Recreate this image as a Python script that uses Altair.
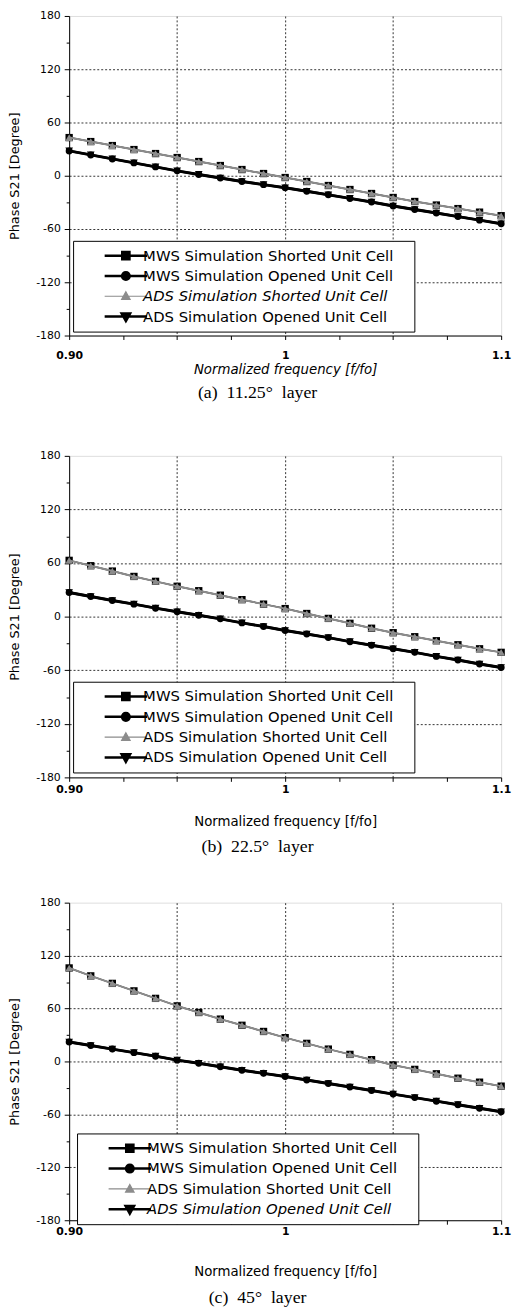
import altair as alt
import pandas as pd

# ---------------- data ----------------
freq = [0.90, 0.91, 0.92, 0.93, 0.94, 0.95, 0.96, 0.97, 0.98, 0.99, 1.00,
        1.01, 1.02, 1.03, 1.04, 1.05, 1.06, 1.07, 1.08, 1.09, 1.10]

series_names = [
    "MWS Simulation Shorted Unit Cell",
    "MWS Simulation Opened Unit Cell",
    "ADS Simulation Shorted Unit Cell",
    "ADS Simulation Opened Unit Cell",
]

# (a) 11.25 deg layer
a_mws_shorted = [43, 38.5, 34, 29.5, 25, 20.5, 16, 11.5, 7, 2.5, -2, -6.5, -11, -15.5, -20, -24.5, -29, -33, -37, -41, -45]
a_ads_shorted = [43, 38.5, 34, 29.5, 25, 20.5, 16, 11.5, 7, 2.5, -2, -6.5, -11, -15.5, -20, -24.5, -29, -33, -37, -41, -45]
a_mws_opened = [28, 23.5, 19, 14.5, 10, 5.5, 1.5, -2.5, -6.5, -10, -13.5, -17.5, -21.5, -25.5, -29.5, -34, -38, -42, -46, -50, -54]
a_ads_opened = [28, 23.5, 19, 14.5, 10, 5.5, 1.5, -2.5, -6.5, -10, -13.5, -17.5, -21.5, -25.5, -29.5, -34, -38, -42, -46, -50, -54]

# (b) 22.5 deg layer
b_mws_shorted = [63, 57, 51, 45, 39.5, 34, 29, 24, 19, 14, 9, 3.5, -2, -7.5, -13, -18, -22.5, -27, -31.5, -36, -40]
b_ads_shorted = [63, 57, 51, 45, 39.5, 34, 29, 24, 19, 14, 9, 3.5, -2, -7.5, -13, -18, -22.5, -27, -31.5, -36, -40]
b_mws_opened = [27, 22.5, 18, 14, 9.5, 5.5, 1.5, -2.5, -7, -11, -15.5, -19.5, -23.5, -28, -32, -36, -40, -44.5, -48.5, -53, -57]
b_ads_opened = [27, 22.5, 18, 14, 9.5, 5.5, 1.5, -2.5, -7, -11, -15.5, -19.5, -23.5, -28, -32, -36, -40, -44.5, -48.5, -53, -57]

# (c) 45 deg layer
c_mws_shorted = [106, 97, 88.5, 80, 71.5, 63, 55.5, 48, 41, 34, 27, 20.5, 14, 8, 2, -4, -9, -14, -19, -23.5, -28]
c_ads_shorted = [106, 97, 88.5, 80, 71.5, 63, 55.5, 48, 41, 34, 27, 20.5, 14, 8, 2, -4, -9, -14, -19, -23.5, -28]
c_mws_opened = [22, 18, 14, 10, 6, 1.5, -2, -6, -10, -13.5, -17, -21, -25, -29, -33, -37, -41, -45, -49, -53, -57]
c_ads_opened = [22, 18, 14, 10, 6, 1.5, -2, -6, -10, -13.5, -17, -21, -25, -29, -33, -37, -41, -45, -49, -53, -57]

x_ticks = [0.9, 0.925, 0.95, 0.975, 1.0, 1.025, 1.05, 1.075, 1.1]
y_ticks = [-180, -150, -120, -90, -60, -30, 0, 30, 60, 90, 120, 150, 180]

NB = "\u00a0"
subtitles = [f"(a){NB}{NB}11.25°{NB}{NB}layer", f"(b){NB}{NB}22.5°{NB}{NB}layer", f"(c){NB}{NB}45°{NB}{NB}layer"]

# ---------------- style ----------------
SANS = "DejaVu Sans"
GRAY = "#8c8c8c"
symbol_paths = [
    "M-1,0L1,0M-0.17,-0.17L0.17,-0.17L0.17,0.17L-0.17,0.17Z",
    "M-1,0L1,0M0.18,0A0.18,0.18 0 1,1 -0.18,0A0.18,0.18 0 1,1 0.18,0Z",
    "M-1,0L1,0M0,-0.21L0.2,0.15L-0.2,0.15Z",
    "M-1,0L1,0M0,0.21L0.2,-0.15L-0.2,-0.15Z",
]
symbol_colors = ["black", "black", GRAY, "black"]


def panel(mws_s, mws_o, ads_s, ads_o, subtitle, height, legend_y, legend_x,
          italic_name, x_title_italic, label_pad, title_pad, sub_offset):
    rows = []
    for name, vals in zip(series_names, [mws_s, mws_o, ads_s, ads_o]):
        for f, v in zip(freq, vals):
            rows.append({"f": f, "phase": v, "series": name})
    df = pd.DataFrame(rows)

    x_enc = alt.X(
        "f:Q",
        scale=alt.Scale(domain=[0.9, 1.1], zero=False, nice=False),
        axis=alt.Axis(
            values=x_ticks,
            labelExpr="abs(datum.value-0.9)<1e-6 ? '0.90' : (abs(datum.value-1)<1e-6 ? '1' : (abs(datum.value-1.1)<1e-6 ? '1.1' : ''))",
            labelOverlap=False, labelFlush=False,
            labelFont=SANS, labelFontSize=11, labelFontWeight="bold", labelColor="black",
            labelPadding=label_pad,
            tickSize=4, tickColor="black", domainColor="black",
            grid=True, gridColor="#333333", gridDash=[2, 2], gridWidth=1,
            gridOpacity={"condition": {"test": "abs(datum.value-0.95)<1e-6 || abs(datum.value-1)<1e-6 || abs(datum.value-1.05)<1e-6", "value": 1}, "value": 0},
            title="Normalized frequency [f/fo]",
            titleFont=SANS, titleFontSize=13.5, titleFontWeight="normal",
            titleFontStyle="italic" if x_title_italic else "normal",
            titleColor="black", titlePadding=title_pad,
        ),
    )
    y_enc = alt.Y(
        "phase:Q",
        scale=alt.Scale(domain=[-180, 180], nice=False, zero=False),
        axis=alt.Axis(
            values=y_ticks,
            labelExpr="datum.value % 60 == 0 ? '' + datum.value : ''",
            labelOverlap=False,
            labelFont=SANS, labelFontSize=11, labelColor="black", labelPadding=4,
            tickColor="black", domainColor="black",
            tickSize={"condition": {"test": "datum.value % 60 == 0", "value": 5}, "value": 3},
            grid=True, gridColor="#333333", gridDash=[2, 2], gridWidth=1,
            gridOpacity={"condition": {"test": "datum.value % 60 == 0 && abs(datum.value) < 150", "value": 1}, "value": 0},
            title="Phase S21 [Degree]",
            titleFont=SANS, titleFontSize=13, titleFontWeight="normal",
            titleColor="black", titlePadding=14,
        ),
    )

    base = alt.Chart(df).encode(x=x_enc, y=y_enc)

    def sel(name):
        return base.transform_filter(alt.datum.series == name)

    l1 = sel(series_names[0]).mark_line(color="black", strokeWidth=1.5)
    p1 = sel(series_names[0]).mark_point(shape="square", filled=True, color="black", size=55, opacity=1)
    l3 = sel(series_names[2]).mark_line(color=GRAY, strokeWidth=2)
    p3 = sel(series_names[2]).mark_point(shape="triangle-up", filled=True, color=GRAY, size=60, opacity=1)
    l2 = sel(series_names[1]).mark_line(color="black", strokeWidth=3)
    p2 = sel(series_names[1]).mark_point(shape="circle", filled=True, color="black", size=50, opacity=1)
    l4 = sel(series_names[3]).mark_line(color="black", strokeWidth=2.5)
    p4 = sel(series_names[3]).mark_point(shape="triangle-down", filled=True, color="black", size=60, opacity=1)

    leg = alt.Legend(
        title=NB, titleOrient="right", titlePadding=14, titleFontSize=2,
        orient="none", legendX=legend_x, legendY=legend_y,
        direction="vertical",
        strokeColor="black", fillColor="white", padding=7, rowPadding=4.6,
        clipHeight=16,
        symbolSize=1849, symbolOffset=39, labelOffset=10,
        symbolStrokeWidth=alt.ExprRef(expr=f"datum.value == '{series_names[2]}' ? 1.2 : 2.5"),
        labelFont=SANS, labelFontSize=15, labelColor="black", labelLimit=400,
        labelFontStyle=alt.ExprRef(expr=f"datum.value == '{italic_name}' ? 'italic' : 'normal'"),
    )
    legend_layer = base.transform_filter("false").mark_point(filled=True, opacity=1).encode(
        fill=alt.Fill("series:N", scale=alt.Scale(domain=series_names, range=symbol_colors), legend=leg),
        stroke=alt.Stroke("series:N", scale=alt.Scale(domain=series_names, range=symbol_colors), legend=leg),
        shape=alt.Shape("series:N", scale=alt.Scale(domain=series_names, range=symbol_paths), legend=leg),
    )

    return alt.layer(l1, p1, l3, p3, l2, p2, l4, p4, legend_layer).properties(
        width=438, height=height,
        title=alt.TitleParams(
            subtitle, orient="bottom", anchor="middle", font="Liberation Serif",
            fontSize=18, fontWeight="normal", color="black", offset=sub_offset, dx=-28,
        ),
    )


pa = panel(a_mws_shorted, a_mws_opened, a_ads_shorted, a_ads_opened, subtitles[0],
           324, 228, 4, series_names[2], True, 10, 2, 9)
pb = panel(b_mws_shorted, b_mws_opened, b_ads_shorted, b_ads_opened, subtitles[1],
           326, 229, 4, "none", False, 2, 21, 10)
pc = panel(c_mws_shorted, c_mws_opened, c_ads_shorted, c_ads_opened, subtitles[2],
           322, 234, 8, series_names[3], False, 1, 29, 11)

RES = dict(fill="independent", stroke="independent", shape="independent")
inner = alt.vconcat(pa, pb, spacing=47).resolve_scale(**RES).resolve_legend(**RES)
chart = alt.vconcat(inner, pc, spacing=40).resolve_scale(**RES).resolve_legend(**RES).properties(
    padding={"left": 0, "top": -8, "right": 0, "bottom": 0}
).configure_view(stroke="black", strokeWidth=1).configure(background="white")

chart.save("out.html", embed_options={"renderer": "svg", "actions": False})
